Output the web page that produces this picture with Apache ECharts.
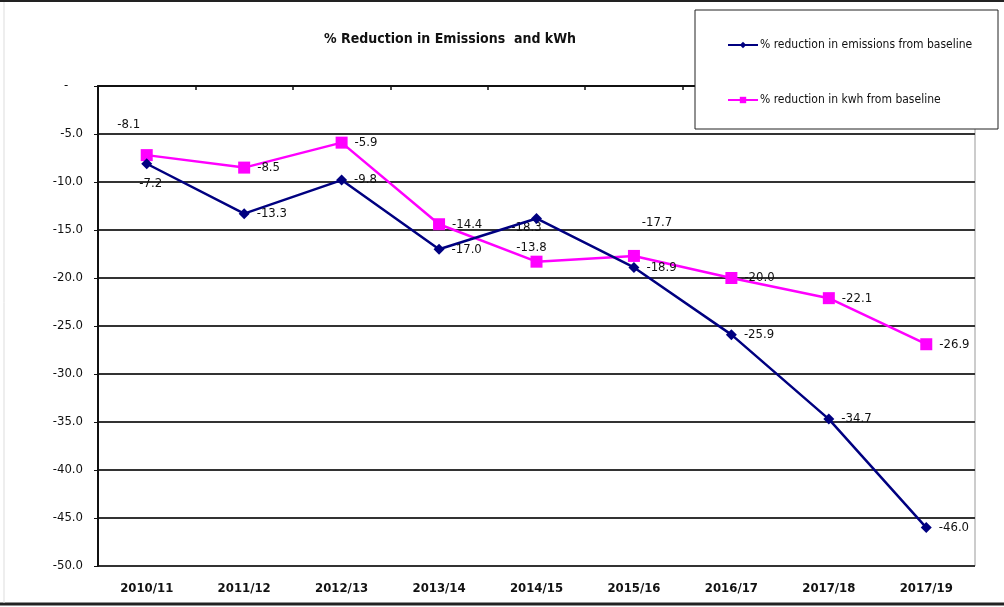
<!DOCTYPE html>
<html>
<head>
<meta charset="utf-8">
<script src="https://cdn.jsdelivr.net/npm/echarts@6/dist/echarts.min.js"></script>
<style>
  html, body { margin: 0; padding: 0; background: #fff; }
  #chart { width: 1004px; height: 607px; }
</style>
</head>
<body>
<div id="chart"></div>
<script>
var categories = ['2010/11', '2011/12', '2012/13', '2013/14', '2014/15', '2015/16', '2016/17', '2017/18', '2017/19'];
var emissions = [-8.1, -13.3, -9.8, -17.0, -13.8, -18.9, -25.9, -34.7, -46.0];
var kwh = [-7.2, -8.5, -5.9, -14.4, -18.3, -17.7, -20.0, -22.1, -26.9];
var yTicks = { min: -50, max: 0, step: 5 };

// labels that Excel put somewhere other than to the right of the point
var emissionLabelMoves = { 0: [-18, -39], 4: [-5, 29] };
var kwhLabelMoves = { 0: [4, 29], 4: [-10, -34], 5: [23, -33] };

var font = "'Liberation Sans Narrow', 'DejaVu Sans Condensed', 'Arial Narrow', sans-serif";

function buildData(values, moves) {
  return values.map(function (v, i) {
    if (moves[i]) {
      return { value: v, label: { position: 'inside', offset: moves[i] } };
    }
    return v;
  });
}

var chart = echarts.init(document.getElementById('chart'));

var option = {
  backgroundColor: '#fff',
  animation: false,
  textStyle: { fontFamily: font },
  title: {
    text: '% Reduction in Emissions  and kWh',
    left: 445,
    textAlign: 'center',
    top: 27,
    textStyle: { fontFamily: font, fontSize: 14, fontWeight: 'bold', color: '#111' }
  },
  legend: {
    orient: 'vertical',
    left: 722,
    top: 34,
    itemWidth: 30,
    itemHeight: 8,
    itemGap: 43,
    z: 20,
    textStyle: { fontFamily: font, fontSize: 12, color: '#111', padding: [0, 0, 0, -3] },
    data: ['% reduction in emissions from baseline', '% reduction in kwh from baseline']
  },
  grid: {
    left: 98,
    right: 29,
    top: 86,
    bottom: 41,
    show: true,
    borderColor: '#999',
    borderWidth: 1
  },
  xAxis: [{
    type: 'category',
    data: categories,
    position: 'bottom',
    axisLine: { show: true, lineStyle: { color: '#999', width: 1 } },
    axisTick: { show: false },
    axisLabel: { margin: 16, color: '#111', fontFamily: font, fontSize: 13, fontWeight: 'bold' }
  }, {
    type: 'category',
    data: categories,
    position: 'top',
    axisLine: { show: true, lineStyle: { color: '#111', width: 2 } },
    axisTick: { show: true, inside: true, length: 4, lineStyle: { color: '#111', width: 1.5 } },
    axisLabel: { show: false }
  }],
  yAxis: {
    type: 'value',
    min: yTicks.min,
    max: yTicks.max,
    interval: yTicks.step,
    axisLine: { show: true, lineStyle: { color: '#111', width: 2 } },
    axisTick: { show: true, length: 4, lineStyle: { color: '#111' } },
    axisLabel: {
      margin: 15,
      color: '#111',
      fontFamily: font,
      fontSize: 13,
      formatter: function (v) { return v === 0 ? '-    ' : v.toFixed(1); }
    },
    splitLine: { show: true, lineStyle: { color: '#333', width: 2 } }
  },
  graphic: [{
    type: 'rect',
    z: 10,
    shape: { x: 695, y: 10, width: 303, height: 119 },
    style: { fill: '#fff', stroke: '#222', lineWidth: 1 }
  }, {
    type: 'line',
    z: 10,
    shape: { x1: 0, y1: 1, x2: 1004, y2: 1 },
    style: { stroke: '#222', lineWidth: 2 }
  }, {
    type: 'line',
    z: 10,
    shape: { x1: 0, y1: 604, x2: 1004, y2: 604 },
    style: { stroke: '#222', lineWidth: 3 }
  }, {
    type: 'line',
    z: 10,
    shape: { x1: 4, y1: 2, x2: 4, y2: 603 },
    style: { stroke: '#ddd', lineWidth: 1 }
  }],
  series: [{
    name: '% reduction in emissions from baseline',
    type: 'line',
    data: buildData(emissions, emissionLabelMoves),
    color: '#000080',
    symbol: 'diamond',
    symbolSize: 11,
    lineStyle: { width: 2.5, color: '#000080' },
    itemStyle: { color: '#000080' },
    label: {
      show: true,
      position: 'right',
      distance: 7,
      color: '#111',
      fontFamily: font,
      fontSize: 13,
      formatter: function (p) { return p.value.toFixed(1); }
    },
    z: 3
  }, {
    name: '% reduction in kwh from baseline',
    type: 'line',
    data: buildData(kwh, kwhLabelMoves),
    color: '#ff00ff',
    symbol: 'rect',
    symbolSize: 12,
    lineStyle: { width: 2.5, color: '#ff00ff' },
    itemStyle: { color: '#ff00ff' },
    label: {
      show: true,
      position: 'right',
      distance: 7,
      color: '#111',
      fontFamily: font,
      fontSize: 13,
      formatter: function (p) { return p.value.toFixed(1); }
    },
    z: 2
  }]
};

chart.setOption(option);
</script>
</body>
</html>
